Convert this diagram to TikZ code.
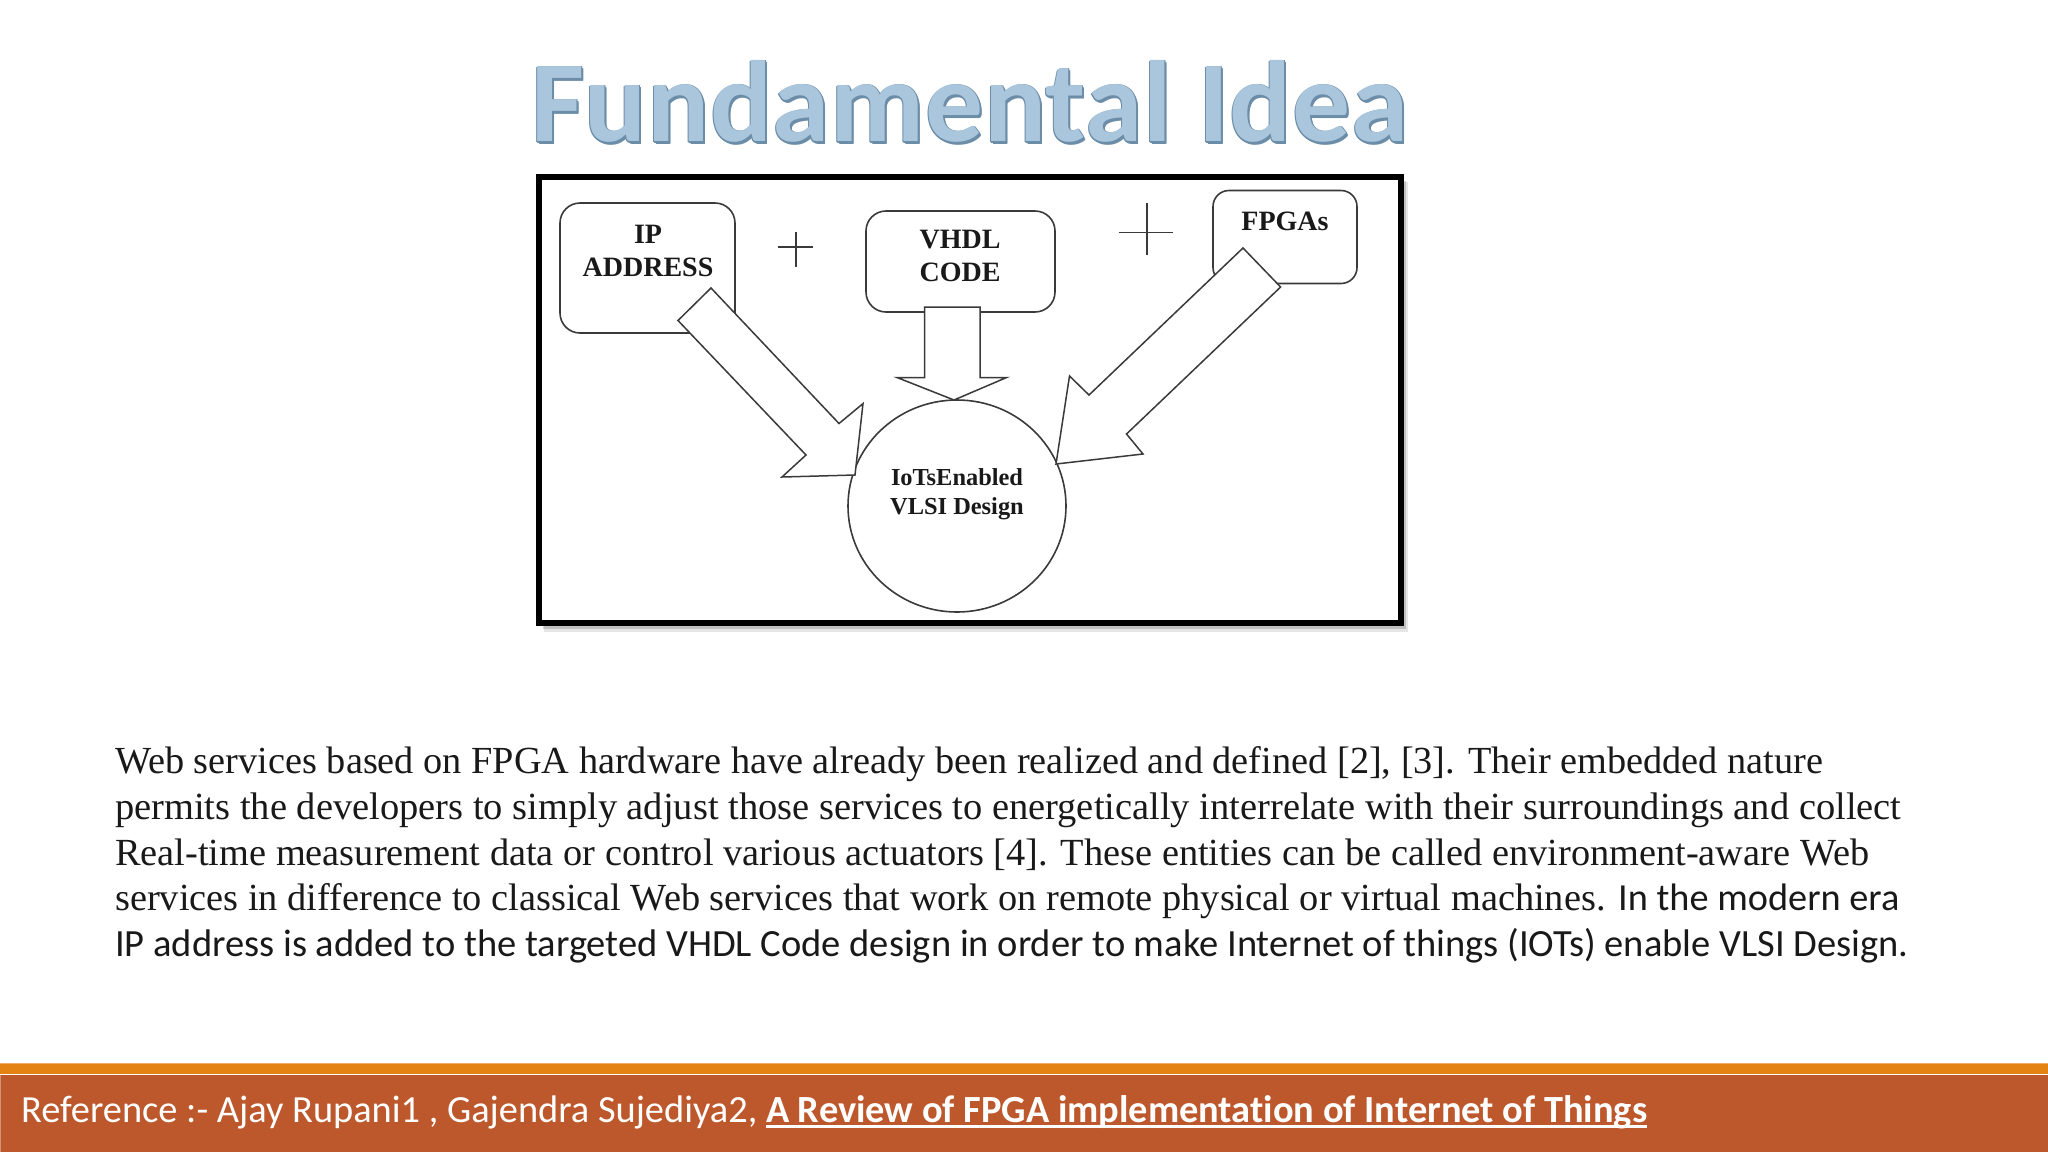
\documentclass[tikz,border=0pt]{standalone}
\usepackage{fontspec}
\setmainfont{Liberation Serif}
\newfontfamily\calib[Ligatures=NoCommon]{Carlito}
\newfontfamily\calibtitle[Ligatures=NoCommon,LetterSpace=0.6]{Carlito}
\usetikzlibrary{positioning,shapes.geometric}
\definecolor{bandorange}{HTML}{E48312}
\definecolor{bandrust}{HTML}{BD582C}
\definecolor{titlefill}{HTML}{A9C6DD}
\definecolor{titledark}{HTML}{6C8DA8}
\definecolor{inkline}{HTML}{3A3A3A}
\newsavebox{\reftitlebox}
\tikzset{
  thinbox/.style={draw=inkline,line width=1.6pt,fill=white,rounded corners=20pt,minimum width=#1,inner sep=0pt},
  blockarrow/.style={draw=inkline,line width=1.5pt,fill=white,line join=miter},
  plusline/.style={draw=inkline,line width=1.6pt},
  boxtext/.style={font=\bfseries\fontsize{28}{33}\selectfont,text=black!90,align=center,inner sep=0pt},
  circtext/.style={font=\bfseries\fontsize{24.4}{29}\selectfont,text=black!90,align=center,inner sep=0pt},
  bodyline/.style={anchor=base west,inner sep=0pt,text=black!90,font=\fontsize{38.35}{44}\selectfont},
  titletext/.style={anchor=base west,inner sep=0pt,font=\calibtitle\bfseries\fontsize{115.5}{120}\selectfont},
  foot/.style={anchor=base west,inner sep=0pt,text=white,font=\calib\fontsize{38.4}{44}\selectfont},
}
\begin{document}
\begin{tikzpicture}[x=1pt,y=-1pt]
\useasboundingbox (0,0) rectangle (2048,1152);
\fill[white] (0,0) rectangle (2048,1152);
% title
\foreach \dx/\dy in {-1/1,1/0,1/2,0/2,2/2,2/3}{
  \node[titletext,text=titledark] at (531+\dx,141+\dy) {Fundamental Idea};
}
\node[titletext,text=titlefill] (title) at (531,141) {Fundamental Idea};
% frame shadow
\fill[black,opacity=.10] (544,182) rectangle (1408,632);
\fill[black,opacity=.16] (543,181) rectangle (1406,629);
\draw[black,line width=5.5pt,fill=white] (539,177) rectangle (1401,623);
% boxes
\node[thinbox=175pt,minimum height=130pt] (ip) at (647.5,268) {};
\node[thinbox=189pt,minimum height=101pt] (vhdl) at (960.5,261.5) {};
\node[thinbox=144pt,minimum height=93pt,rounded corners=16pt] (fpga) at (1285,237) {};
\node[draw=inkline,line width=1.6pt,fill=white,ellipse,minimum width=218pt,minimum height=212pt,inner sep=0pt] (core) at (957,506) {};
% block arrows
\draw[blockarrow] (711,288) -- (678,320.5) -- (806,455) -- (782,477) -- (855,475) -- (863,403.6) -- (839,423.5) -- cycle;
\draw[blockarrow] (924.5,307) -- (980,307) -- (980,377.5) -- (1006.6,377.5) -- (954,400) -- (897,377.5) -- (924.5,377.5) -- cycle;
\draw[blockarrow] (1243,248) -- (1280.6,287) -- (1126.5,434) -- (1143,454) -- (1056,464) -- (1069.5,376) -- (1089,395) -- cycle;
% plus signs
\draw[plusline] (778,247) -- (813,247) (796,232) -- (796,267);
\draw[plusline] (1119,232.5) -- (1173,232.5) (1147,203) -- (1147,255);
% box labels
\node[boxtext] (iptext) at (648,251) {IP\\ADDRESS};
\node[boxtext] (vhdltext) at (960,256) {VHDL\\CODE};
\node[boxtext] (fpgatext) at (1285,221.5) {FPGAs};
\node[circtext] (coretext) at (957,494.5) {IoTsEnabled\\VLSI Design};
% body
\node[bodyline,font=\fontsize{38.3}{44}\selectfont] (l1) at (115,773) {Web services based on FPGA hardware have already been realized and defined [2], [3]. Their embedded nature};
\node[bodyline,font=\fontsize{38.46}{44}\selectfont] (l2) at (115,819) {permits the developers to simply adjust those services to energetically interrelate with their surroundings and collect};
\node[bodyline] (l3) at (115,865) {Real-time measurement data or control various actuators [4]. These entities can be called environment-aware Web};
\node[bodyline] (l4) at (115,910) {services in difference to classical Web services that work on remote physical or virtual machines. {\calib\fontsize{38.3}{44}\selectfont In the modern era}};
\node[bodyline,font=\calib\fontsize{38.5}{44}\selectfont] (l5) at (115,956) {IP address is added to the targeted VHDL Code design in order to make Internet of things (IOTs) enable VLSI Design.};
% footer
\fill[bandorange] (0,1063) rectangle (2048,1074);
\fill[bandrust] (0,1075) rectangle (2048,1152);
\draw[white,opacity=.35,line width=1pt] (0,1063) -- (2048,1063) (0,1074.5) -- (2048,1074.5) (.5,1075) -- (.5,1152);
\node[foot] (ref) at (21,1122) {Reference :- Ajay Rupani1 , Gajendra Sujediya2, \sbox{\reftitlebox}{\bfseries A Review of FPGA implementation of Internet of Things}\rlap{\rule[-6pt]{\wd\reftitlebox}{3pt}}\usebox{\reftitlebox}};
\end{tikzpicture}
\end{document}
